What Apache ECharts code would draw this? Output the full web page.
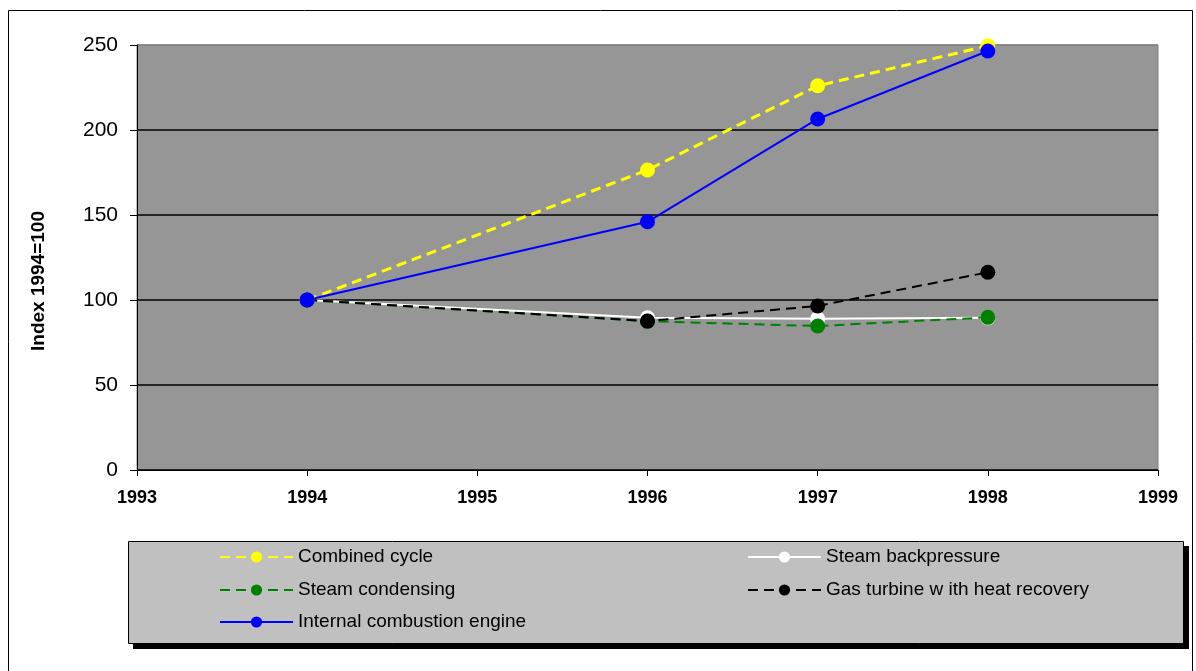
<!DOCTYPE html>
<html>
<head>
<meta charset="utf-8">
<script src="https://cdn.jsdelivr.net/npm/echarts@6/dist/echarts.min.js"></script>
<style>
html,body{margin:0;padding:0;background:#fff;}
#chart{width:1196px;height:671px;}
</style>
</head>
<body>
<div id="chart"></div>
<script>
var years = [1994, 1996, 1997, 1998];
var combinedCycle = [100, 176.5, 226, 249.5];
var steamBackpressure = [100, 89.5, 89, 89.5];
var steamCondensing = [100, 87.5, 84.7, 89.8];
var gasTurbine = [100, 87.6, 96.5, 116.3];
var internalCombustion = [100, 146, 206.5, 246.5];
var xTicks = [1993, 1994, 1995, 1996, 1997, 1998, 1999];
var yTicks = [0, 50, 100, 150, 200, 250];
var seriesNames = ['Combined cycle', 'Steam backpressure', 'Steam condensing', 'Gas turbine w ith heat recovery', 'Internal combustion engine'];
var yTitle = 'Index 1994=100';

var FONT = 'Liberation Sans, Arial, sans-serif';
function pairs(vals){ return years.map(function(y,i){ return [y, vals[i]]; }); }

function mk(name, vals, color, dashed, width){
  return {
    name: name, type: 'line', data: pairs(vals),
    symbol: 'circle', symbolSize: 15,
    itemStyle: {color: color},
    lineStyle: {color: color, width: width, type: dashed ? [10, 6] : 'solid'},
    emphasis: {disabled: true},
    animation: false
  };
}

function lg(name, left, cy){
  return {
    data: [name], left: left, top: cy - 10, orient: 'horizontal', padding: 0,
    itemWidth: 73, itemHeight: 14,
    textStyle: {fontFamily: FONT, fontSize: 19, color: '#000', lineHeight: 20},
    selectedMode: false
  };
}

var chart = echarts.init(document.getElementById('chart'));
chart.setOption({
  backgroundColor: '#fff',
  animation: false,
  textStyle: {fontFamily: FONT},
  grid: {left: 137, top: 45, right: 38, bottom: 201, show: true, backgroundColor: '#969696', borderColor: '#808080', borderWidth: 1},
  xAxis: {
    type: 'value', min: xTicks[0], max: xTicks[xTicks.length-1], interval: 1,
    axisLine: {show: true, lineStyle: {color: '#000', width: 1}},
    axisTick: {show: true, inside: false, length: 6, lineStyle: {color: '#000'}},
    splitLine: {show: false},
    axisLabel: {fontFamily: FONT, fontSize: 18, fontWeight: 'bold', color: '#000', margin: 19,
      formatter: function(v){ return xTicks.indexOf(v) >= 0 ? String(v) : ''; }}
  },
  yAxis: {
    type: 'value', min: yTicks[0], max: yTicks[yTicks.length-1], interval: 50,
    axisLine: {show: true, lineStyle: {color: '#000', width: 1}},
    axisTick: {show: true, inside: false, length: 7, lineStyle: {color: '#000'}},
    splitLine: {show: true, lineStyle: {color: ['#000','#000','#000','#000','#000','#808080'], width: 1.5}},
    axisLabel: {fontFamily: FONT, fontSize: 21, color: '#000', margin: 19,
      formatter: function(v){ return String(v); }}
  },
  legend: [
    lg(seriesNames[0], 219, 557),
    lg(seriesNames[2], 219, 590),
    lg(seriesNames[4], 219, 622),
    lg(seriesNames[1], 747, 557),
    lg(seriesNames[3], 747, 590)
  ],
  graphic: [
    {type: 'rect', z: -10, shape: {x: 8.5, y: 10.5, width: 1184, height: 700}, style: {fill: 'none', stroke: '#000', lineWidth: 1}, silent: true},
    {type: 'rect', z: -10, shape: {x: 133, y: 546, width: 1056, height: 103}, style: {fill: '#000'}, silent: true},
    {type: 'rect', z: -9, shape: {x: 128.5, y: 541.5, width: 1055, height: 102}, style: {fill: '#C0C0C0', stroke: '#000', lineWidth: 1}, silent: true},
    {type: 'text', z: 10, x: 39, y: 281, rotation: Math.PI/2,
      style: {text: yTitle, font: 'bold 19px ' + FONT, fill: '#000', textAlign: 'center', textVerticalAlign: 'middle'}, silent: true}
  ],
  series: [
    mk(seriesNames[0], combinedCycle, '#FFFF00', true, 3),
    mk(seriesNames[1], steamBackpressure, '#FFFFFF', false, 2),
    mk(seriesNames[2], steamCondensing, '#008000', true, 2),
    mk(seriesNames[3], gasTurbine, '#000000', true, 2),
    mk(seriesNames[4], internalCombustion, '#0000FF', false, 2)
  ]
});
</script>
</body>
</html>
